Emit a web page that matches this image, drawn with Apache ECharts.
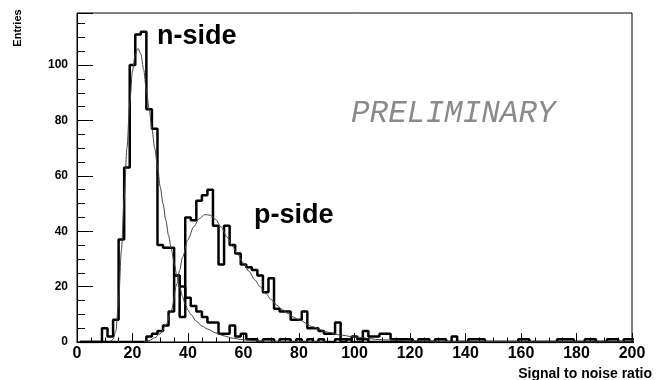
<!DOCTYPE html>
<html><head><meta charset="utf-8">
<script src="https://cdn.jsdelivr.net/npm/echarts/dist/echarts.min.js"></script>
<style>html,body{margin:0;padding:0;background:#fff}#c{width:656px;height:380px}</style>
</head><body><div id="c"></div>
<script>
// Histogram binning (bin left edges start at 1, width 2)
const binStart = 1;
const binWidth = 2;

// n-side histogram counts (100 bins)
const nSide = [
  0,0,0,0,5,2,8,37,63,100,
  111,112,84,77,35,34,34,24,20,16,
  13,11,9,7,7,3,3,6,2,3,
  1,1,0,1,1,0,1,1,0,1,
  0,1,0,1,0,0,1,0,1,0,
  0,1,0,0,0,0,0,1,0,0,
  0,0,0,0,0,0,0,0,0,0,
  0,0,0,0,0,0,0,0,0,0,
  0,0,0,0,0,0,0,0,0,0,
  0,0,0,0,0,0,0,0,0,0
];

// p-side histogram counts (100 bins)
const pSide = [
  0,0,0,0,0,0,0,0,0,0,
  0,0,2,3,4,6,11,24,9,45,
  44,51,53,55,42,28,42,35,32,28,
  27,26,24,18,23,12,11,11,8,8,
  11,5,5,4,3,3,7,1,1,2,
  1,4,2,2,3,3,1,0,1,1,
  0,1,1,0,1,1,0,2,0,0,
  1,1,1,0,0,0,0,0,0,1,
  1,0,0,0,0,0,1,1,1,0,
  0,1,1,0,0,1,1,0,1,1
];

// Fit curves: [signal-to-noise, entries]
const nFit = [[12,0],[13,1],[14,4],[15,15],[16,33],[17,52],[18,70],[19,86],[20,98],[21,104],[22,106],[23,104],[24,98.5],[25,91],[26,84],[27,77],[28,70],[29,63.5],[30,56],[31,50],[32,44],[33,38.5],[34,33.5],[35,28.5],[36,24],[37,20],[38,16.5],[39,13.5],[40,11.5],[41,10],[43,7.5],[45,5.8],[47,4.7],[50,3.3],[53,2.2],[56,1.4],[60,0.8],[65,0.4],[75,0.1],[90,0]];
const pFit = [[24,0],[26,0.5],[28,1.5],[30,3],[32,6],[34,11.5],[36,21],[37,26],[38,30.5],[40,37],[42,41.5],[44,44.5],[46,46],[48,45.8],[50,44.2],[52,41.5],[54,38],[56,34.5],[58,31.5],[60,28.5],[62,25.5],[64,22.5],[66,20],[68,17.5],[70,15.3],[72,13.3],[74,11.7],[76,10.3],[78,9],[80,7.9],[85,5.5],[90,3.6],[95,2.5],[100,1.8],[110,0.8],[120,0.4],[140,0.1],[200,0]];

const xMin = 0, xMax = 200, xMajor = 20, xMinorSplit = 4;
const yMin = 0, yMax = 118.8, yMajor = 20, yMinor = 5;

const labels = { n: 'n-side', p: 'p-side', prelim: 'PRELIMINARY', yTitle: 'Entries', xTitle: 'Signal to noise ratio' };

function toSteps(vals) {
  const d = vals.map((v, i) => [binStart + i * binWidth, v]);
  d.push([binStart + vals.length * binWidth, vals[vals.length - 1]]);
  return d;
}

const FONT = 'Liberation Sans, Arial, Helvetica, sans-serif';
const chart = echarts.init(document.getElementById('c'), null, { renderer: 'canvas' });
const axisLine = { show: true, onZero: false, lineStyle: { color: '#000', width: 1 } };

chart.setOption({
  animation: false,
  backgroundColor: '#fff',
  grid: { left: 77, right: 24, top: 13, bottom: 38, show: true, borderColor: '#000', borderWidth: 1, outerBoundsMode: 'none', containLabel: false },
  xAxis: [{
    type: 'value', min: xMin, max: xMax, interval: xMajor, position: 'bottom',
    axisLine: axisLine,
    axisTick: { show: true, inside: true, length: 9, lineStyle: { color: '#000', width: 1 } },
    minorTick: { show: true, splitNumber: xMinorSplit, length: 4.5, lineStyle: { color: '#000', width: 1 } },
    axisLabel: { color: '#000', fontFamily: FONT, fontWeight: 'bold', fontSize: 16, margin: 4 },
    splitLine: { show: false }, minorSplitLine: { show: false }
  }],
  yAxis: [{
    type: 'value', min: yMin, max: yMax, interval: yMajor, position: 'left',
    axisLine: axisLine,
    axisTick: { show: true, inside: true, length: 16, lineStyle: { color: '#000', width: 1 } },
    axisLabel: { color: '#000', fontFamily: FONT, fontWeight: 'bold', fontSize: 12, margin: 9,
      formatter: v => (v % yMajor === 0 ? String(v) : '') },
    splitLine: { show: false }
  }, {
    type: 'value', min: yMin, max: yMax, interval: yMinor, position: 'left',
    axisLine: { show: false },
    axisTick: { show: true, inside: true, length: 8, lineStyle: { color: '#000', width: 1 } },
    axisLabel: { show: false },
    splitLine: { show: false }
  }],
  series: [
    { type: 'line', step: 'end', data: toSteps(nSide), symbol: 'none', lineStyle: { color: '#000', width: 2.5 }, z: 3 },
    { type: 'line', step: 'end', data: toSteps(pSide), symbol: 'none', lineStyle: { color: '#000', width: 2.5 }, z: 3 },
    { type: 'line', data: nFit, smooth: 0.3, smoothMonotone: 'x', symbol: 'none', lineStyle: { color: '#444', width: 1 }, z: 4 },
    { type: 'line', data: pFit, smooth: 0.3, smoothMonotone: 'x', symbol: 'none', lineStyle: { color: '#444', width: 1 }, z: 4 }
  ],
  graphic: [
    { type: 'text', x: 18, y: 28, rotation: Math.PI / 2,
      style: { text: labels.yTitle, font: 'bold 11px ' + FONT, fill: '#000', align: 'center', verticalAlign: 'middle', textAlign: 'center', textVerticalAlign: 'middle' } },
    { type: 'text', x: 652, y: 374,
      style: { text: labels.xTitle, font: 'bold 14px ' + FONT, fill: '#000', align: 'right', verticalAlign: 'middle', textAlign: 'right', textVerticalAlign: 'middle' } },
    { type: 'text', x: 157, y: 36.6,
      style: { text: labels.n, font: 'bold 27px ' + FONT, fill: '#000', align: 'left', verticalAlign: 'middle', textAlign: 'left', textVerticalAlign: 'middle' } },
    { type: 'text', x: 254, y: 215.6,
      style: { text: labels.p, font: 'bold 27px ' + FONT, fill: '#000', align: 'left', verticalAlign: 'middle', textAlign: 'left', textVerticalAlign: 'middle' } },
    { type: 'text', x: 351, y: 114,
      style: { text: labels.prelim, font: 'italic 31px "Liberation Mono", "Courier New", monospace', fill: '#8a8a8a', align: 'left', verticalAlign: 'middle', textAlign: 'left', textVerticalAlign: 'middle' } }
  ]
});
</script>
</body></html>
